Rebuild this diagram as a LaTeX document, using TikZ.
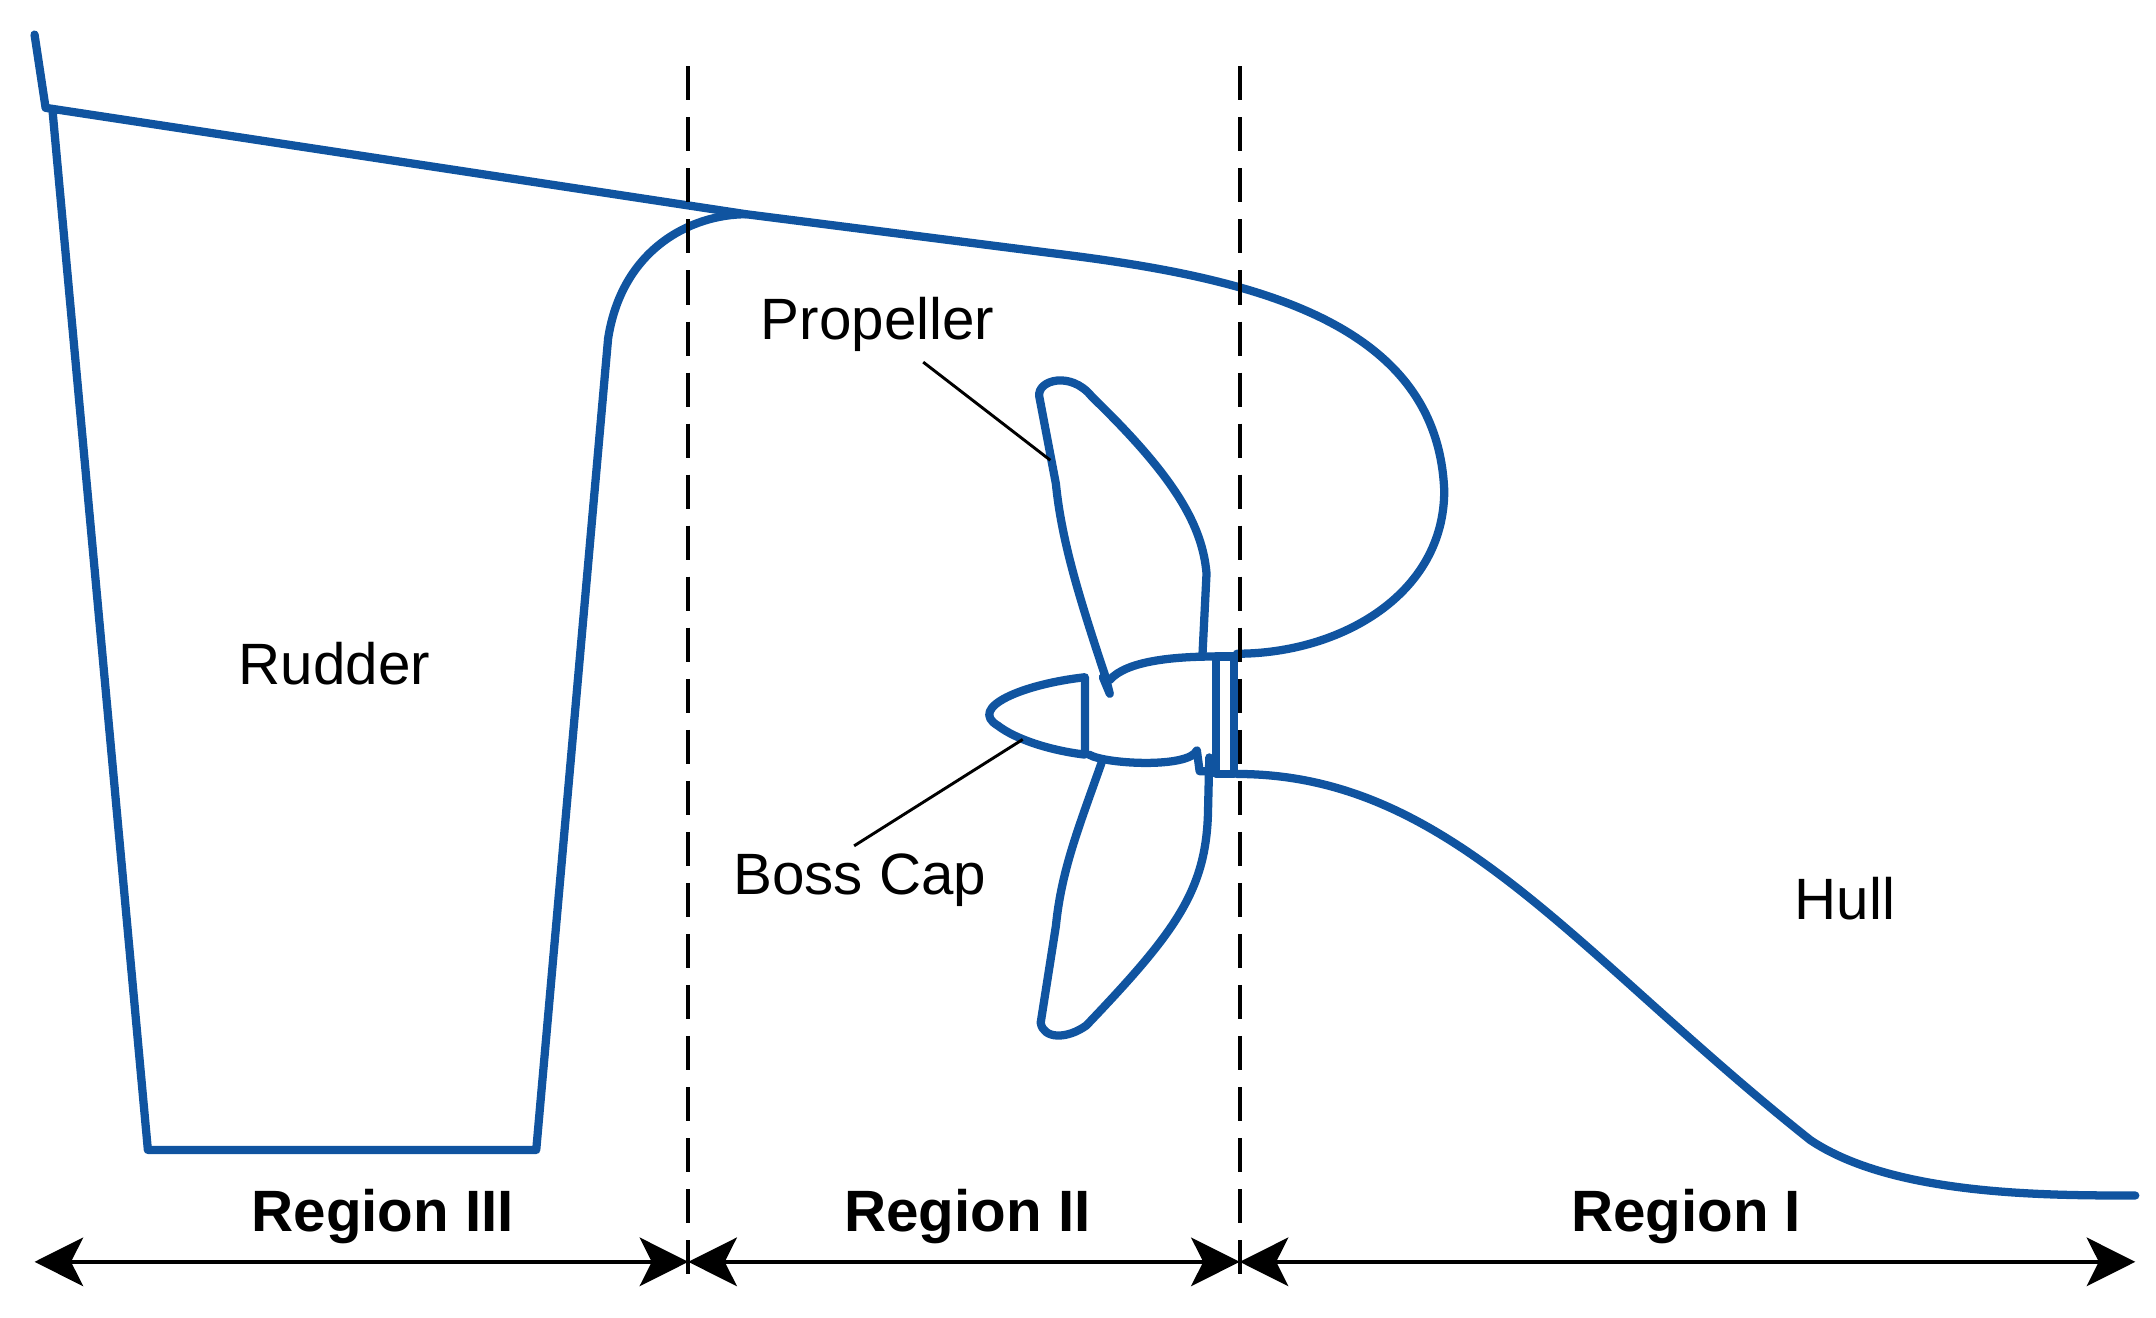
\documentclass[tikz,border=0pt]{standalone}
\usepackage{fontspec}
\setmainfont{Liberation Sans}
\usetikzlibrary{arrows.meta}
\definecolor{hb}{RGB}{16,84,160}
\begin{document}
\begin{tikzpicture}[x=0.01cm,y=-0.01cm,
 outl/.style={draw=hb,line width=1.7pt,line join=round,line cap=round},
 lab/.style={font=\fontsize{12}{14}\selectfont},
 reg/.style={font=\fontsize{12}{14}\selectfont\bfseries},
 dim/.style={line width=0.75pt,{Stealth[length=10pt,width=10pt,inset=2.5pt]}-{Stealth[length=10pt,width=10pt,inset=2.5pt]}},
 div/.style={line width=0.85pt,dash pattern=on 7pt off 3.5pt}]
\useasboundingbox (0,0) rectangle (1560,953);
% top line
\draw[outl] (25,25) -- (33,78) -- (540,155) -- (760,183)
  .. controls (900,200) and (1040,230) .. (1045,355)
  .. controls (1045,430) and (970,473) .. (895,473);
% rudder
\draw[outl] (38,80) -- (107,832) -- (388,832) -- (440,245)
  .. controls (450,180) and (500,155) .. (540,155);
% hull bottom
\draw[outl] (895,560) .. controls (1050,560) and (1140,690) .. (1310,825)
  .. controls (1370,865) and (1480,865) .. (1545,865);
% flange
\draw[outl] (880,475) rectangle (893,560);
% boss cap
\draw[outl] (785,490) .. controls (740,495) and (700,512) .. (722,525)
  .. controls (735,535) and (760,543) .. (785,546) -- cycle;
% hub
\draw[outl] (803,492) .. controls (815,478) and (850,475) .. (880,475);
\draw[outl] (788,546) .. controls (800,553) and (860,556) .. (866,543) -- (868,558) -- (880,558);
% upper blade
\draw[outl] (798,490) -- (803,502) -- (800,490)
  .. controls (780,430) and (768,390) .. (764,350) -- (752,287)
  .. controls (750,275) and (775,268) .. (790,287)
  .. controls (850,345) and (870,380) .. (873,415) -- (870,475);
% lower blade
\draw[outl] (797,552) .. controls (780,600) and (768,630) .. (764,670) -- (753,740)
  .. controls (755,752) and (772,752) .. (786,742)
  .. controls (850,675) and (872,645) .. (874,590) -- (875,548);
% dividers
\draw[div] (498,48) -- (498,925);
\draw[div] (897,48) -- (897,925);
% dimension arrows
\coordinate (a0) at (25,913); \coordinate (a1) at (498,913);
\coordinate (a2) at (897,913); \coordinate (a3) at (1545,913);
\draw[dim] (a0) -- (a1);
\draw[dim] (a1) -- (a2);
\draw[dim] (a2) -- (a3);
\node[reg] (r3) at (277,880) {Region III};
\node[reg] (r2) at (700,880) {Region II};
\node[reg] (r1) at (1220,880) {Region I};
% labels
\node[lab] (rud) at (242,480) {Rudder};
\node[lab] (prop) at (635,235) {Propeller};
\node[lab] (boss) at (622,637) {Boss Cap};
\node[lab] (hull) at (1335,650) {Hull};
\coordinate (pe) at (760,333);
\coordinate (be) at (740,535);
\draw[line width=0.6pt] (668,262) -- (pe);
\draw[line width=0.6pt] (618,612) -- (be);
\end{tikzpicture}
\end{document}
